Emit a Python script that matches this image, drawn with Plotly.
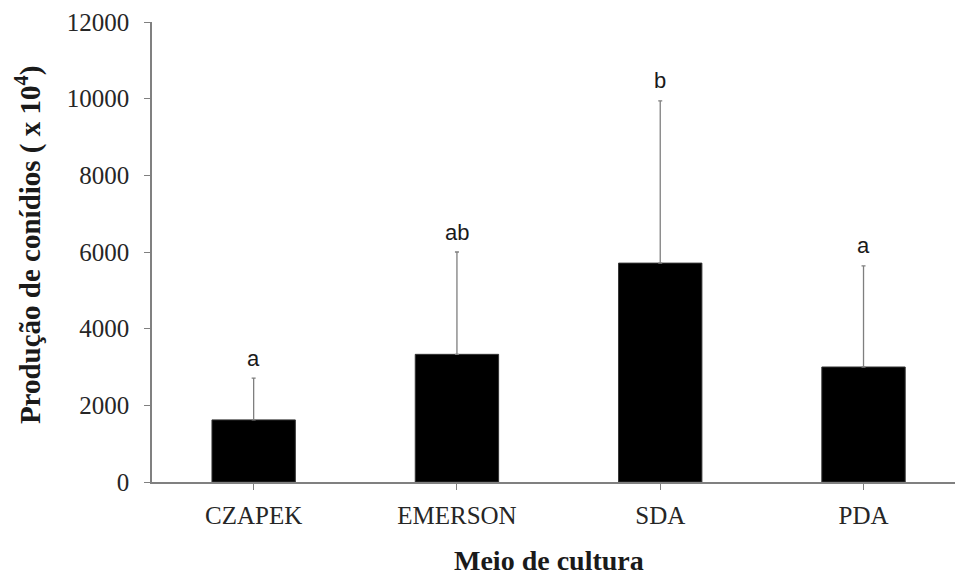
import plotly.graph_objects as go

categories = ["CZAPEK", "EMERSON", "SDA", "PDA"]
means = [1620, 3330, 5710, 3000]
err_plus = [1090, 2670, 4230, 2640]
letters = ["a", "ab", "b", "a"]
y_ticks = [0, 2000, 4000, 6000, 8000, 10000, 12000]

x_idx = list(range(len(categories)))

fig = go.Figure()
fig.add_trace(go.Bar(
    x=x_idx, y=means, width=0.41,
    marker=dict(color="black", line=dict(color="#333333", width=1)),
    error_y=dict(type="data", symmetric=False, array=err_plus,
                 arrayminus=[0] * len(means), color="#7f7f7f",
                 thickness=1.3, width=2),
    showlegend=False,
))

for xi, m, e, lab in zip(x_idx, means, err_plus, letters):
    fig.add_annotation(x=xi, y=m + e, text=lab, showarrow=False,
                       yanchor="middle", yshift=20,
                       font=dict(family="Liberation Sans", size=22, color="#1a1a1a"))

fig.add_annotation(xref="paper", yref="paper", x=-0.1544, y=0.515,
                   text="<b>Produção de conídios ( x 10<sup>4</sup>)</b>",
                   textangle=-90, showarrow=False, xanchor="center", yanchor="middle",
                   font=dict(family="Liberation Serif", size=29, color="#1a1a1a"))
fig.add_annotation(xref="paper", yref="paper", x=0.494, y=-0.1696,
                   text="<b>Meio de cultura</b>", showarrow=False,
                   xanchor="center", yanchor="middle", borderpad=0,
                   font=dict(family="Liberation Serif", size=28, color="#1a1a1a"))

fig.update_layout(
    width=955, height=577,
    margin=dict(l=152, r=0, t=22, b=95),
    plot_bgcolor="white", paper_bgcolor="white",
    bargap=0.59,
)
fig.update_xaxes(
    range=[-0.5, 3.45], tickmode="array", tickvals=x_idx, ticktext=categories,
    tickson="boundaries", ticks="outside", ticklen=6, tickcolor="#808080",
    showline=True, linecolor="#808080", linewidth=1.5, showgrid=False, zeroline=False,
    tickfont=dict(family="Liberation Serif", size=25, color="#262626"),
    ticklabelstandoff=4,
)
fig.update_yaxes(
    range=[0, 12000], tickmode="array", tickvals=y_ticks,
    ticktext=[str(v) for v in y_ticks],
    ticks="outside", ticklen=6, tickcolor="#808080",
    showline=True, linecolor="#808080", linewidth=1.5, showgrid=False, zeroline=False,
    tickfont=dict(family="Liberation Serif", size=25, color="#262626"),
    ticklabelstandoff=10,
)

fig.write_html("out.html")
